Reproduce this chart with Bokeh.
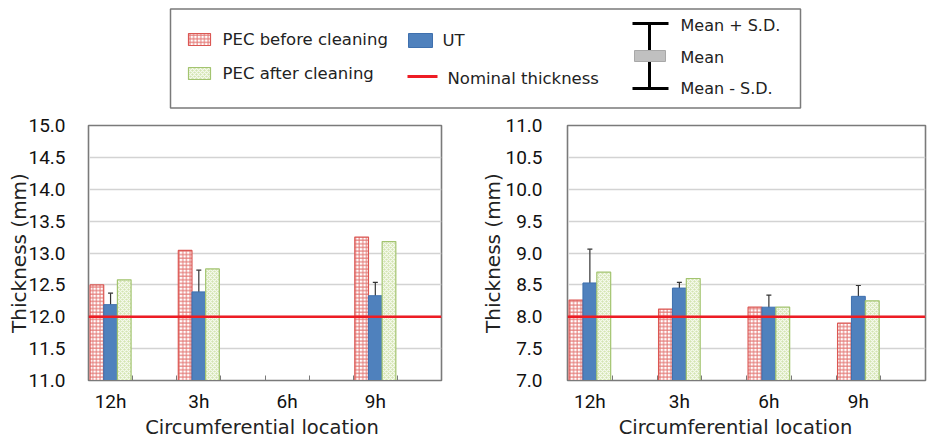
import numpy as np
from bokeh.plotting import figure
from bokeh.models import (Range1d, FixedTicker, Whisker, TeeHead, Span, ColumnDataSource,
                          NumeralTickFormatter)
from bokeh.layouts import column, row
from bokeh.embed import file_html
from bokeh.resources import INLINE
from bokeh.core.properties import value
from bokeh.transform import dodge

# ---------------- data ----------------
categories = ["12h", "3h", "6h", "9h"]

# left panel
a_pec_before = [12.50, 13.04, np.nan, 13.25]
a_ut_mean = [12.19, 12.39, np.nan, 12.33]
a_ut_sd = [0.18, 0.34, np.nan, 0.21]
a_pec_after = [12.58, 12.75, np.nan, 13.18]
a_nominal = 12.0
a_yticks = [11.0, 11.5, 12.0, 12.5, 13.0, 13.5, 14.0, 14.5, 15.0]

# right panel
b_pec_before = [8.26, 8.12, 8.15, 7.90]
b_ut_mean = [8.53, 8.45, 8.15, 8.32]
b_ut_sd = [0.53, 0.09, 0.19, 0.17]
b_pec_after = [8.70, 8.60, 8.15, 8.25]
b_nominal = 8.0
b_yticks = [7.0, 7.5, 8.0, 8.5, 9.0, 9.5, 10.0, 10.5, 11.0]

x_title = "Circumferential location"
y_title = "Thickness (mm)"
legend_labels = ["PEC before cleaning", "PEC after cleaning", "UT", "Nominal thickness"]
key_labels = ["Mean + S.D.", "Mean", "Mean - S.D."]

# ---------------- styles ----------------
RED_LINE = "#db5753"
RED_HATCH = "#e37774"
GREEN_LINE = "#a3c470"
BLUE = "#4f81bd"
BLUE_LINE = "#3f70ae"
NOM = "#ee1c24"
FRAME = "#7a7a7a"
GRID = "#d3d3d3"
BW = 0.31

before_style = dict(fill_color="white", line_color=RED_LINE, line_width=1.2,
                    hatch_pattern="+", hatch_color=RED_HATCH, hatch_scale=3.6, hatch_weight=1)
after_style = dict(fill_color="#d3e4b2", line_color=GREEN_LINE, line_width=1.2,
                   hatch_pattern="x", hatch_color="#f6faee", hatch_scale=4, hatch_weight=1.2)
ut_style = dict(fill_color=BLUE, line_color=BLUE_LINE, line_width=1)

TICK_FONT = "Roboto"
LABEL_FONT = "DejaVu Sans"


def make_panel(before, ut, sd, after, nominal, yticks, width, mbl, mbr, ylab_standoff, ytick_standoff):
    p = figure(width=width, height=300, x_range=Range1d(0, 2 * len(categories)),
               y_range=Range1d(yticks[0], yticks[-1]),
               min_border_left=mbl, min_border_right=mbr, min_border_top=10, min_border_bottom=34,
               toolbar_location=None, output_backend="svg")
    p.outline_line_color = FRAME
    p.outline_line_width = 1.6
    p.xgrid.visible = False
    p.ygrid.ticker = FixedTicker(ticks=yticks)
    p.ygrid.grid_line_color = GRID
    p.ygrid.grid_line_width = 1.5

    centers = [2 * i + 0.5 for i in range(len(categories))]
    ok = [i for i in range(len(categories)) if not np.isnan(ut[i])]
    src = ColumnDataSource(dict(
        x=[centers[i] for i in ok],
        before=[before[i] for i in ok],
        after=[after[i] for i in ok],
        ut=[ut[i] for i in ok],
        upper=[ut[i] + sd[i] for i in ok],
        lower=[ut[i] - sd[i] for i in ok],
    ))
    base = yticks[0]
    p.vbar(x=dodge("x", -BW, range=p.x_range), top="before", bottom=base, width=BW, source=src, **before_style)
    p.vbar(x="x", top="ut", bottom=base, width=BW, source=src, **ut_style)
    p.vbar(x=dodge("x", BW, range=p.x_range), top="after", bottom=base, width=BW, source=src, **after_style)

    w = Whisker(base="x", upper="upper", lower="lower", source=src, dimension="height",
                line_color="#333333", line_width=1.2,
                upper_head=TeeHead(size=5, line_color="#333333", line_width=1.2),
                lower_head=TeeHead(size=5, line_color="#333333", line_width=1.2))
    p.add_layout(w)

    p.add_layout(Span(location=nominal, dimension="width", line_color=NOM, line_width=2.5))

    # y axis
    p.yaxis.ticker = FixedTicker(ticks=yticks)
    p.yaxis.formatter = NumeralTickFormatter(format="0.0")
    p.yaxis.major_tick_line_color = None
    p.yaxis.minor_tick_line_color = None
    p.yaxis.axis_line_color = FRAME
    p.yaxis.major_label_standoff = ytick_standoff
    p.yaxis.major_label_text_font = TICK_FONT
    p.yaxis.major_label_text_font_size = "19px"
    p.yaxis.major_label_text_color = "#111111"
    p.yaxis.axis_label = y_title
    p.yaxis.axis_label_standoff = ylab_standoff
    p.yaxis.axis_label_text_font = LABEL_FONT
    p.yaxis.axis_label_text_font_size = "20px"
    p.yaxis.axis_label_text_font_style = "normal"
    p.yaxis.axis_label_text_color = "#222222"

    # x axis
    p.xaxis.ticker = FixedTicker(ticks=centers, minor_ticks=list(range(1, 2 * len(categories))))
    p.xaxis.major_label_overrides = {c: lab for c, lab in zip(centers, categories)}
    p.xaxis.major_tick_line_color = None
    p.xaxis.minor_tick_line_color = FRAME
    p.xaxis.minor_tick_in = 5
    p.xaxis.minor_tick_out = 0
    p.xaxis.axis_line_color = FRAME
    p.xaxis.major_label_standoff = 3
    p.xaxis.major_label_text_font = TICK_FONT
    p.xaxis.major_label_text_font_size = "19px"
    p.xaxis.major_label_text_color = "#111111"
    return p


left = make_panel(a_pec_before, a_ut_mean, a_ut_sd, a_pec_after, a_nominal, a_yticks,
                  470, 88, 29, -6, 17)
right = make_panel(b_pec_before, b_ut_mean, b_ut_sd, b_pec_after, b_nominal, b_yticks,
                   458, 97, 3, -3, 19)

# ---------------- legend panel ----------------
lg = figure(width=928, height=115, x_range=Range1d(0, 928), y_range=Range1d(115, 0),
            min_border=0, x_axis_location=None, y_axis_location=None,
            toolbar_location=None, output_backend="svg")
lg.outline_line_color = None
lg.grid.visible = False

lg.quad(left=[170], right=[800], top=[8.5], bottom=[107.5], fill_color="white",
        line_color=FRAME, line_width=1.5)
lg.quad(left=[188], right=[210], top=[33], bottom=[45], **before_style)
lg.quad(left=[188], right=[210], top=[67], bottom=[79], **after_style)
lg.quad(left=[408], right=[432], top=[33], bottom=[47], **ut_style)
lg.line(x=[407, 437], y=[76, 76], line_color=NOM, line_width=3)
lg.text(x=[222, 222, 442, 447], y=[39, 73, 40, 78], text=legend_labels,
        text_font=value("DejaVu Sans"), text_font_size="16.5px", text_color="#222222",
        text_baseline="middle", text_align="left")

# mean / SD key
lg.segment(x0=[649], y0=[23], x1=[649], y1=[88], line_color="black", line_width=3)
lg.segment(x0=[632, 632], y0=[23, 88], x1=[668, 668], y1=[23, 88], line_color="black", line_width=3)
lg.quad(left=[634], right=[665], top=[50], bottom=[61], fill_color="#c0c0c0", line_color="#a8a8a8")
lg.text(x=[680, 680, 680], y=[25, 57, 88], text=key_labels,
        text_font=value("DejaVu Sans"), text_font_size="16px", text_color="#222222",
        text_baseline="middle", text_align="left")

# ---------------- x-axis titles strip ----------------
st = figure(width=928, height=24, x_range=Range1d(0, 928), y_range=Range1d(439, 415),
            min_border=0, x_axis_location=None, y_axis_location=None,
            toolbar_location=None, output_backend="svg")
st.outline_line_color = None
st.grid.visible = False
st.text(x=[261.5, 735], y=[427, 427], text=[x_title, x_title],
        text_font=value(LABEL_FONT), text_font_size="19.5px", text_color="#222222",
        text_baseline="middle", text_align="center")

layout = column(lg, row(left, right), st)
open("out.html", "w").write(file_html(layout, INLINE))
